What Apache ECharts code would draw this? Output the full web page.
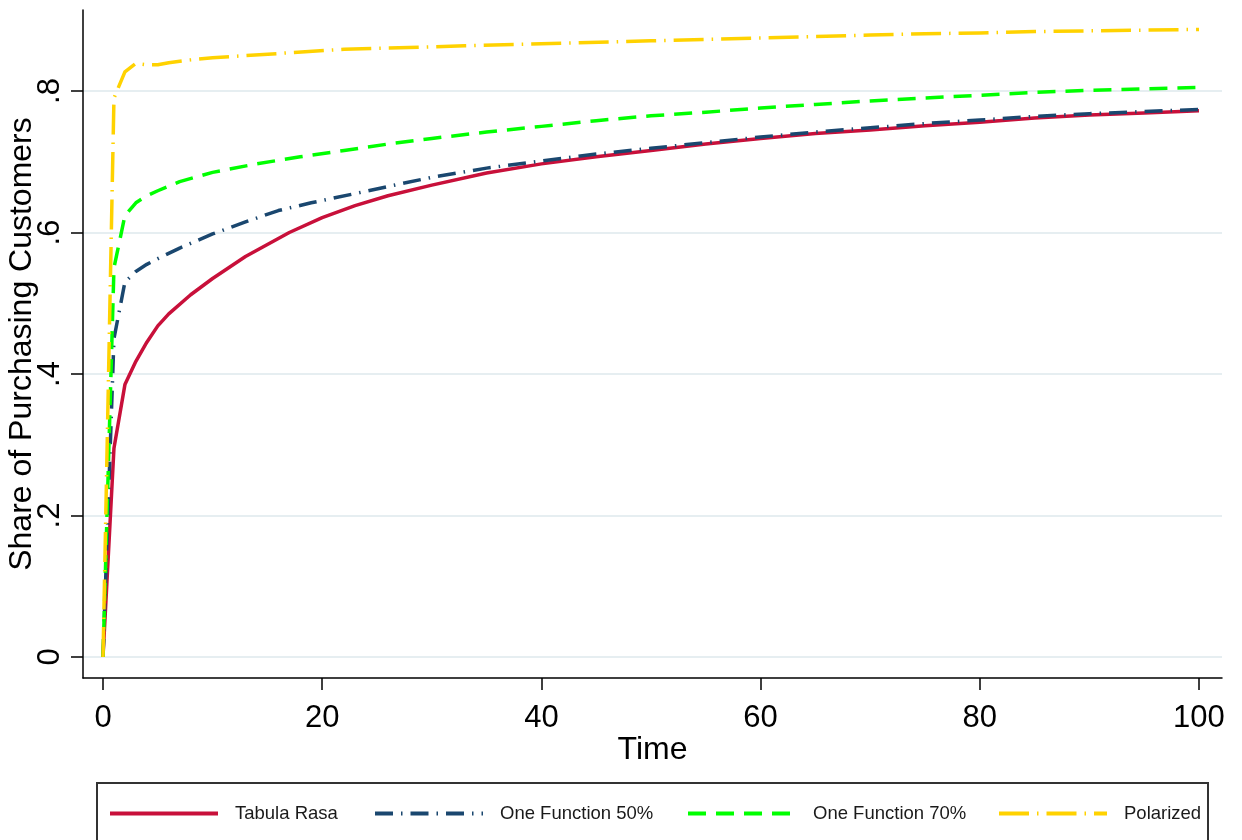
<!DOCTYPE html>
<html>
<head>
<meta charset="utf-8">
<script src="https://cdn.jsdelivr.net/npm/echarts@6/dist/echarts.min.js"></script>
<style>
  html, body { margin: 0; padding: 0; background: #ffffff; }
  #chart { width: 1242px; height: 840px; }
</style>
</head>
<body>
<div id="chart"></div>
<script>
// Share of purchasing customers over time, by prior-belief scenario
const seriesNames = ['Tabula Rasa', 'One Function 50%', 'One Function 70%', 'Polarized'];

const tabulaT = [0, 1, 2, 3, 4, 5, 6, 8, 10, 13, 17, 20, 23, 26, 30, 35, 40, 45, 50, 55, 60, 65, 70, 75, 80, 85, 90, 95, 100];
const tabulaV = [0, 0.295, 0.385, 0.418, 0.445, 0.468, 0.485, 0.512, 0.535, 0.566, 0.600, 0.621, 0.638, 0.652, 0.667, 0.684, 0.697, 0.707, 0.716, 0.725, 0.733, 0.740, 0.745, 0.751, 0.756, 0.762, 0.766, 0.769, 0.772];

const oneFn50T = [0, 1, 2, 3, 4, 5, 7, 10, 13, 16, 19, 23, 26, 30, 35, 40, 45, 50, 55, 60, 65, 70, 75, 80, 85, 90, 95, 100];
const oneFn50V = [0, 0.45, 0.53, 0.545, 0.555, 0.563, 0.578, 0.598, 0.615, 0.631, 0.642, 0.655, 0.665, 0.678, 0.691, 0.701, 0.711, 0.719, 0.727, 0.735, 0.742, 0.748, 0.754, 0.759, 0.764, 0.768, 0.771, 0.774];

const oneFn70T = [0, 1, 2, 3, 4, 5, 7, 10, 14, 18, 22, 26, 30, 35, 40, 45, 50, 55, 60, 65, 70, 75, 80, 85, 90, 95, 100];
const oneFn70V = [0, 0.55, 0.624, 0.642, 0.652, 0.659, 0.672, 0.685, 0.697, 0.707, 0.716, 0.725, 0.733, 0.742, 0.750, 0.758, 0.765, 0.770, 0.776, 0.781, 0.786, 0.790, 0.794, 0.798, 0.801, 0.803, 0.805];

const polarT = [0, 1, 2, 3, 4, 5, 6, 8, 10, 12, 17, 22, 27, 33, 38, 43, 50, 55, 60, 65, 70, 75, 80, 85, 90, 95, 100];
const polarV = [0, 0.79, 0.827, 0.839, 0.837, 0.837, 0.840, 0.844, 0.847, 0.849, 0.854, 0.859, 0.861, 0.864, 0.866, 0.868, 0.871, 0.873, 0.875, 0.877, 0.879, 0.881, 0.882, 0.884, 0.885, 0.886, 0.887];

const xTicks = [0, 20, 40, 60, 80, 100];
const yTicks = [0, 0.2, 0.4, 0.6, 0.8];

const FONT = '"Liberation Sans", Arial, sans-serif';
const colors = ['#c8103a', '#1a476f', '#00ff00', '#ffd200'];
const dashes = ['solid', [18, 8, 1.5, 8], [18, 10], [30, 8, 1.5, 8]];

function pairs(ts, vs) { return ts.map((t, i) => [t, vs[i]]); }
const seriesData = [pairs(tabulaT, tabulaV), pairs(oneFn50T, oneFn50V), pairs(oneFn70T, oneFn70V), pairs(polarT, polarV)];

const chart = echarts.init(document.getElementById('chart'), null, { renderer: 'canvas' });

const legendLeft = [108, 373, 686, 997];

const option = {
  backgroundColor: '#ffffff',
  animation: false,
  textStyle: { fontFamily: FONT },
  grid: { left: 83, right: 20, top: 10, bottom: 162, containLabel: false, outerBoundsMode: 'none' },
  xAxis: {
    type: 'value',
    min: -1.825,
    max: 102.1,
    name: 'Time',
    nameLocation: 'middle',
    nameGap: 56,
    nameMoveOverlap: false,
    nameTextStyle: { fontSize: 32, color: '#000', fontFamily: FONT },
    axisLine: { show: true, onZero: false, lineStyle: { color: '#000', width: 1.5 } },
    axisTick: { show: true, length: 12, customValues: xTicks, lineStyle: { color: '#000', width: 1.5 } },
    axisLabel: { show: true, customValues: xTicks, margin: 25, fontSize: 31, color: '#000', fontFamily: FONT },
    splitLine: { show: false }
  },
  yAxis: {
    type: 'value',
    min: -0.0297,
    max: 0.9145,
    name: 'Share of Purchasing Customers',
    nameLocation: 'middle',
    nameGap: 45,
    nameRotate: 90,
    nameMoveOverlap: false,
    nameTextStyle: { fontSize: 32, color: '#000', fontFamily: FONT },
    axisLine: { show: true, onZero: false, lineStyle: { color: '#000', width: 1.5 } },
    axisTick: { show: true, length: 12, customValues: yTicks, lineStyle: { color: '#000', width: 1.5 } },
    axisLabel: {
      show: true, customValues: yTicks, rotate: 90, margin: 17, fontSize: 31, color: '#000', fontFamily: FONT,
      formatter: v => (Math.abs(v) < 1e-9 ? '0' : String(Math.round(v * 10) / 10).replace(/^0/, ''))
    },
    splitLine: { show: true, lineStyle: { color: '#e6eef1', width: 2 } }
  },
  legend: seriesNames.map((name, i) => ({
    data: [name],
    left: legendLeft[i],
    top: 804,
    itemWidth: 108,
    itemHeight: 20,
    padding: 0,
    selectedMode: false,
    itemStyle: { opacity: 0 },
    lineStyle: { width: 4 },
    textStyle: { fontSize: 18.5, color: '#1a1a1a', fontFamily: FONT, padding: [0, 0, 0, 12] }
  })),
  graphic: [{
    type: 'rect',
    shape: { x: 97, y: 783, width: 1111, height: 80 },
    style: { fill: 'none', stroke: '#333', lineWidth: 2 },
    silent: true
  }],
  series: seriesNames.map((name, i) => ({
    name: name,
    type: 'line',
    data: seriesData[i],
    symbol: 'none',
    showSymbol: false,
    smooth: false,
    clip: true,
    lineStyle: { color: colors[i], width: 3.5, type: dashes[i], cap: 'butt', join: 'round' },
    itemStyle: { color: colors[i] },
    emphasis: { disabled: true }
  }))
};

chart.setOption(option);
</script>
</body>
</html>
